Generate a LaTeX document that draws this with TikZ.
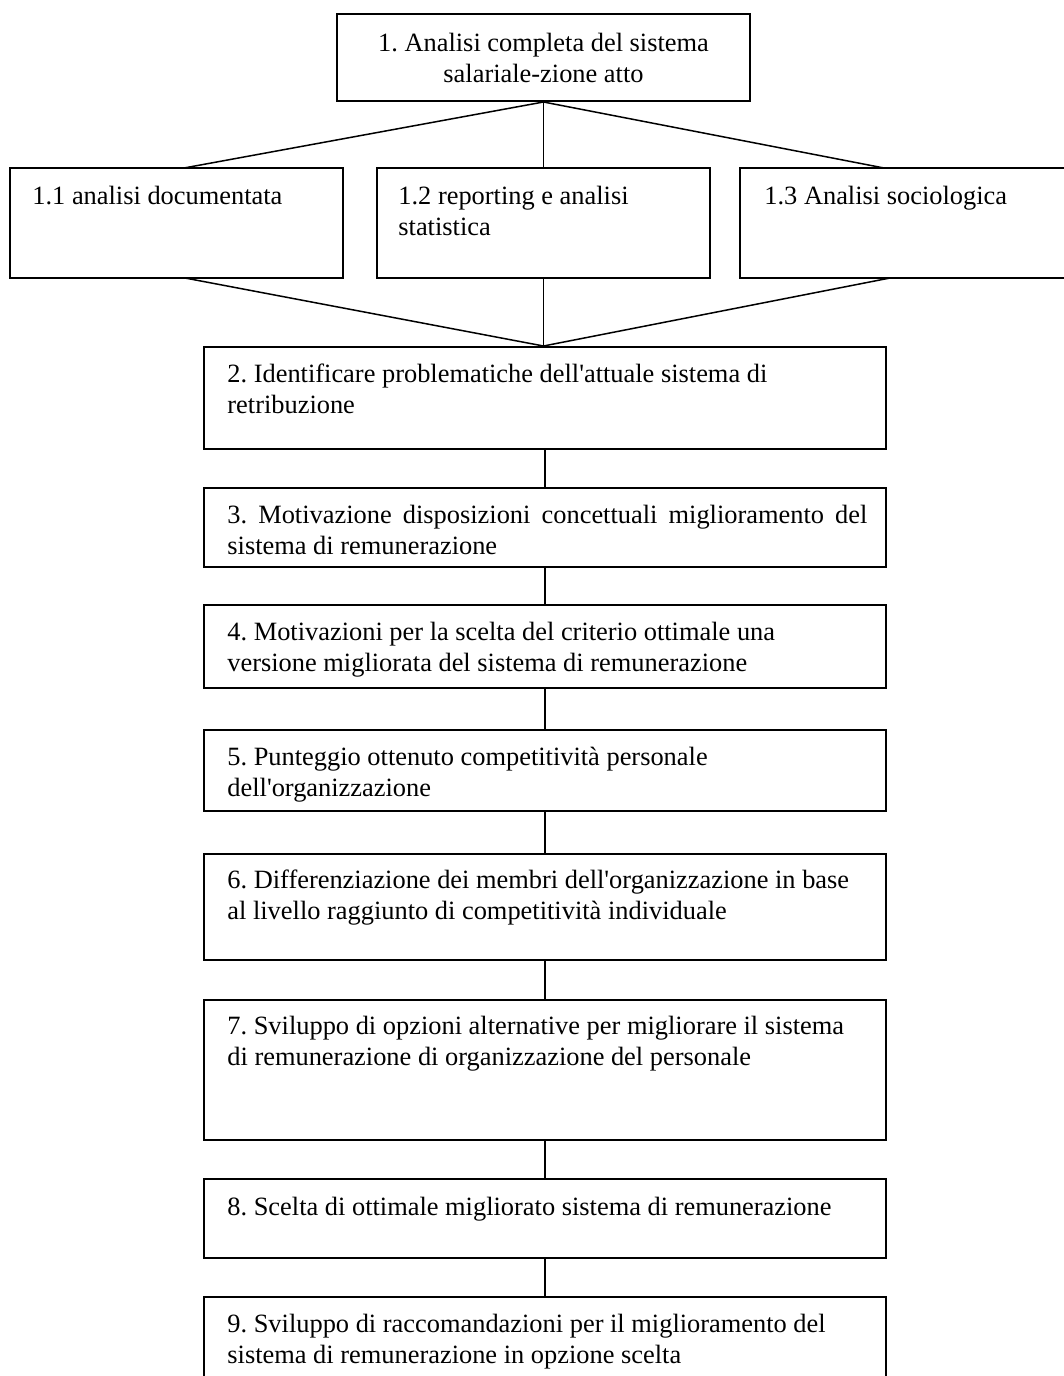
\documentclass[tikz,border=0pt]{standalone}
\usepackage{fontspec}
\setmainfont{Liberation Serif}
\usetikzlibrary{fit}
\newcommand\twol[2]{\vtop{\hbox{#1}\hbox{#2}}}
\newcommand\apo{\textquotesingle}
\begin{document}
\frenchspacing
\begin{tikzpicture}[x=0.5pt,y=-0.5pt,
  box/.style={draw, line width=1pt, inner sep=0pt, fit={#1}},
  conn/.style={draw, line width=0.75pt},
  txt/.style={inner sep=0pt, anchor=base west, font=\fontsize{13.2pt}{15.5pt}\selectfont\frenchspacing},
  ctxt/.style={inner sep=0pt, anchor=center, align=center, font=\fontsize{13.2pt}{15.5pt}\selectfont\frenchspacing}]
\useasboundingbox (0,0) rectangle (1064,1376);
% boxes
\node[box={(337,14) (750,101)}] (n1) {};
\node[box={(10,168) (343,278)}] (n11) {};
\node[box={(377,168) (710,278)}] (n12) {};
\node[box={(740,168) (1072,278)}] (n13) {};
\node[box={(204,347) (886,449)}] (n2) {};
\node[box={(204,488) (886,567)}] (n3) {};
\node[box={(204,605) (886,688)}] (n4) {};
\node[box={(204,730) (886,811)}] (n5) {};
\node[box={(204,854) (886,960)}] (n6) {};
\node[box={(204,1000) (886,1140)}] (n7) {};
\node[box={(204,1179) (886,1258)}] (n8) {};
\node[box={(204,1297) (886,1382)}] (n9) {};
% texts
\node[ctxt] (l1) at (n1.center) {1. Analisi completa del sistema\\salariale-zione atto};
\node[txt] (l11) at (32,204) {1.1 analisi documentata};
\node[txt] (l12) at (398,204) {\twol{1.2 reporting e analisi}{statistica}};
\node[txt] (l13) at (764,204) {1.3 Analisi sociologica};
\node[txt] (l2) at (227,382) {\twol{2. Identificare problematiche dell\apo attuale sistema di}{retribuzione}};
\node[txt] (l3) at (227,523) {\twol{\makebox[320pt][s]{3. Motivazione disposizioni concettuali miglioramento del}}{sistema di remunerazione}};
\node[txt] (l4) at (227,640) {\twol{4. Motivazioni per la scelta del criterio ottimale una}{versione migliorata del sistema di remunerazione}};
\node[txt] (l5) at (227,765) {\twol{5. Punteggio ottenuto competitività personale}{dell\apo organizzazione}};
\node[txt] (l6) at (227,888) {\twol{6. Differenziazione dei membri dell\apo organizzazione in base}{al livello raggiunto di competitività individuale}};
\node[txt] (l7) at (227,1034) {\twol{7. Sviluppo di opzioni alternative per migliorare il sistema}{di remunerazione di organizzazione del personale}};
\node[txt] (l8) at (227,1215) {8. Scelta di ottimale migliorato sistema di remunerazione};
\node[txt] (l9) at (227,1332) {\twol{9. Sviluppo di raccomandazioni per il miglioramento del}{sistema di remunerazione in opzione scelta}};
% attachment points
\coordinate (t11) at (184,168);
\coordinate (t13) at (884,168);
\coordinate (b11) at (185,278);
\coordinate (b13) at (890,278);
\coordinate (apex) at (n12.south |- n2.north);
% connectors
\draw[conn] (n1.south) -- (t11);
\draw[conn] (n1.south) -- (n12.north);
\draw[conn] (n1.south) -- (t13);
\draw[conn] (b11) -- (apex);
\draw[conn] (n12.south) -- (apex);
\draw[conn] (b13) -- (apex);
\draw[conn] (n2.south) -- (n3.north);
\draw[conn] (n3.south) -- (n4.north);
\draw[conn] (n4.south) -- (n5.north);
\draw[conn] (n5.south) -- (n6.north);
\draw[conn] (n6.south) -- (n7.north);
\draw[conn] (n7.south) -- (n8.north);
\draw[conn] (n8.south) -- (n9.north);
\end{tikzpicture}
\end{document}
